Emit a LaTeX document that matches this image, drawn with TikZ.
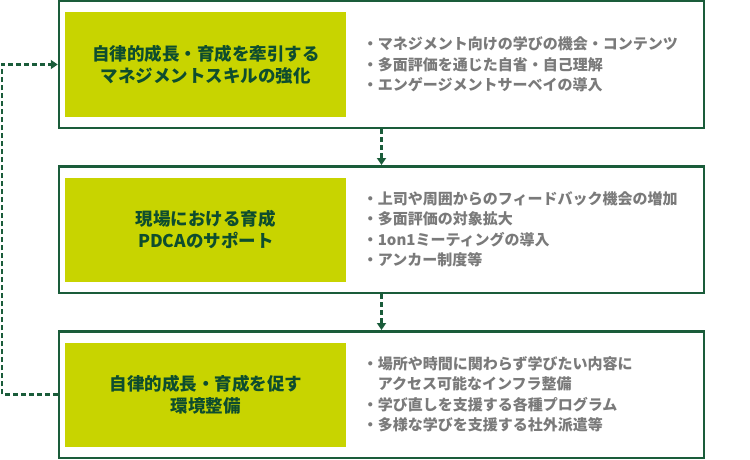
\documentclass[tikz,border=0pt]{standalone}
\usepackage{fontspec}
\setmainfont{Noto Sans CJK JP}
\usetikzlibrary{positioning,arrows.meta}
\definecolor{framegreen}{HTML}{1A5C3A}
\definecolor{limefill}{HTML}{C8D400}
\definecolor{titlegreen}{HTML}{0E4D2E}
\definecolor{itemgray}{HTML}{7A7A7A}

\begin{document}
\begin{tikzpicture}[x=1pt,y=-1pt,
      every node/.style={inner sep=0pt},
      stage/.style={draw=framegreen,line width=2.5pt,minimum width=645pt,minimum height=126.5pt},
      title/.style={fill=limefill,minimum width=281pt,minimum height=104pt,align=center,
        text=titlegreen,font=\fontsize{17.5pt}{22pt}\selectfont\bfseries},
      items/.style={align=left,text=itemgray,font=\fontsize{15pt}{20.5pt}\selectfont\bfseries},
      flow/.style={framegreen,line width=2.5pt,dash pattern=on 5pt off 3pt,
        -{Triangle[width=9pt,length=7pt]}}
    ]
      \useasboundingbox (0,0) rectangle (750,460);
      \node[stage] (stage1) at (381.5,64.5) {};
      \node[stage,below=36pt of stage1] (stage2) {};
      \node[stage,below=36pt of stage2] (stage3) {};

      \node[title,right=7.5pt of stage1.west] (title1) {自律的成長・育成を牽引する\\マネジメントスキルの強化};
      \node[title,right=7.5pt of stage2.west] (title2) {現場における育成\\PDCAのサポート};
      \node[title,right=7.5pt of stage3.west] (title3) {自律的成長・育成を促す\\環境整備};

      \node[items,right=16pt of title1.east] (items1) {・マネジメント向けの学びの機会・コンテンツ\\
        ・多面評価を通じた自省・自己理解\\
        ・エンゲージメントサーベイの導入};
      \node[items,right=16pt of title2.east] (items2) {・上司や周囲からのフィードバック機会の増加\\
        ・多面評価の対象拡大\\
        ・1on1ミーティングの導入\\
        ・アンカー制度等};
      \node[items,right=16pt of title3.east] (items3) {・場所や時間に関わらず学びたい内容に\\
        \hspace*{1em}アクセス可能なインフラ整備\\
        ・学び直しを支援する各種プログラム\\
        ・多様な学びを支援する社外派遣等};

      \coordinate (loopside) at (2,0);
      \draw[flow] (stage1) -- (stage2);
      \draw[flow] (stage2) -- (stage3);
      \draw[flow] (stage3.west) -- (stage3.west -| loopside) |- (stage1.west);
    \end{tikzpicture}
\end{document}
